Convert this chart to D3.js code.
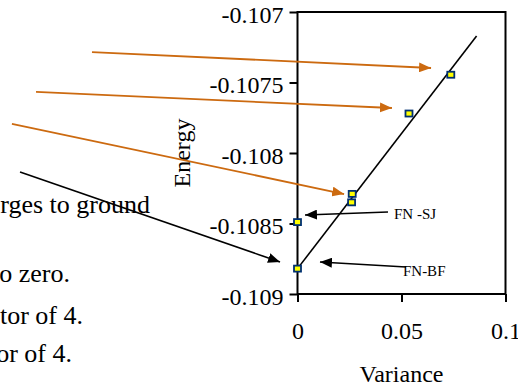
<!DOCTYPE html>
<html><head><meta charset="utf-8">
<script src="https://cdn.jsdelivr.net/npm/d3@7"></script>
<style>body{margin:0;background:#fff;overflow:hidden}svg{display:block}</style>
</head><body>
<svg id="c" width="518" height="388"></svg>
<script>
// ---- data ----
const variance = [0, 0, 0.026, 0.0263, 0.0536, 0.0737];
const energy   = [-0.10882, -0.10849, -0.10835, -0.10829, -0.10772, -0.107445];
const fitX = [0, 0.0861];
const fitY = [-0.10882, -0.10717];
const xTicks = [0, 0.05, 0.1];
const xTickLabels = ["0", "0.05", "0.1"];
const yTicks = [-0.107, -0.1075, -0.108, -0.1085, -0.109];
const yTickLabels = ["-0.107", "-0.1075", "-0.108", "-0.1085", "-0.109"];
// annotation arrows in data units: [x1, y1, x2, y2]
const orangeArrows = [
  [-0.0988, -0.107284, 0.0642, -0.107397],
  [-0.1257, -0.107567, 0.0454, -0.107681],
  [-0.1373, -0.107794, 0.0224, -0.108291]
];
const blackArrows = [
  [-0.1334, -0.108135, -0.0084, -0.108773],
  [0.0435, -0.108418, 0.0036, -0.10844],
  [0.0522, -0.108809, 0.0108, -0.108773]
];
const pointLabels = ["FN -SJ", "FN-BF"];
const pointLabelX = [0.0464, 0.0507];
const pointLabelY = [-0.108468, -0.108872];
const sideTexts = ["rges to ground", "o zero.", "tor of 4.", "or of 4."];
const sideTextY = [213, 282, 324, 362];
const sideTextEnd = [150, 70, 83, 72];

// ---- drawing ----
const svg = d3.select("#c");
const L = 297.5, R = 505.5, T = 12, B = 294;
const x = d3.scaleLinear().domain([0, 0.1]).range([L, R]);
const y = d3.scaleLinear().domain([-0.109, -0.107]).range([B, T]);
const serif = "'Liberation Serif','Times New Roman',serif";
const orange = "#cc6a10";

const defs = svg.append("defs");
function mk(id, col) {
  defs.append("marker").attr("id", id).attr("viewBox", "0 0 12 10")
    .attr("refX", 12).attr("refY", 5).attr("markerWidth", 12).attr("markerHeight", 10)
    .attr("markerUnits", "userSpaceOnUse").attr("orient", "auto")
    .append("path").attr("d", "M0,0 L12,5 L0,10 Z").attr("fill", col);
}
mk("ao", orange); mk("ab", "#000");

// side texts
svg.append("g").selectAll("text").data(sideTexts).join("text")
  .attr("x", (d, i) => sideTextEnd[i]).attr("y", (d, i) => sideTextY[i])
  .attr("text-anchor", "end").attr("font-family", serif).attr("font-size", 26)
  .attr("fill", "#000").text(d => d);

// frame
svg.append("rect").attr("x", L).attr("y", T).attr("width", R - L).attr("height", B - T)
  .attr("fill", "none").attr("stroke", "#000").attr("stroke-width", 2);

// axes
const yAxis = d3.axisLeft(y).tickValues(yTicks).tickSize(8).tickPadding(6)
  .tickFormat((d, i) => yTickLabels[i]);
const gy = svg.append("g").attr("transform", `translate(${L},0)`).call(yAxis)
  .attr("font-family", serif).attr("font-size", 24);
gy.select(".domain").remove();
gy.selectAll("line").attr("stroke", "#000").attr("stroke-width", 2);
gy.selectAll("text").attr("fill", "#000").attr("dy", "0.42em");

const xAxis = d3.axisBottom(x).tickValues(xTicks).tickSize(8).tickPadding(20)
  .tickFormat((d, i) => xTickLabels[i]);
const gx = svg.append("g").attr("transform", `translate(0,${B})`).call(xAxis)
  .attr("font-family", serif).attr("font-size", 24);
gx.select(".domain").remove();
gx.selectAll("line").attr("stroke", "#000").attr("stroke-width", 2);
gx.selectAll("text").attr("fill", "#000");

// axis titles
svg.append("text").attr("x", x(0.05)).attr("y", 382).attr("text-anchor", "middle")
  .attr("font-family", serif).attr("font-size", 24).text("Variance");
svg.append("text").attr("transform", `translate(190,${y(-0.108)}) rotate(-90)`)
  .attr("text-anchor", "middle").attr("font-family", serif).attr("font-size", 24).text("Energy");

// fit line
svg.append("line").attr("x1", x(fitX[0])).attr("y1", y(fitY[0]))
  .attr("x2", x(fitX[1])).attr("y2", y(fitY[1]))
  .attr("stroke", "#000").attr("stroke-width", 1.6);

// arrows
svg.append("g").selectAll("line").data(orangeArrows).join("line")
  .attr("x1", d => x(d[0])).attr("y1", d => y(d[1]))
  .attr("x2", d => x(d[2])).attr("y2", d => y(d[3]))
  .attr("stroke", orange).attr("stroke-width", 1.8).attr("marker-end", "url(#ao)");
svg.append("g").selectAll("line").data(blackArrows).join("line")
  .attr("x1", d => x(d[0])).attr("y1", d => y(d[1]))
  .attr("x2", d => x(d[2])).attr("y2", d => y(d[3]))
  .attr("stroke", "#000").attr("stroke-width", 1.6).attr("marker-end", "url(#ab)");

// points
svg.append("g").selectAll("rect").data(variance).join("rect")
  .attr("x", (d) => x(d) - 3.5).attr("y", (d, i) => y(energy[i]) - 3)
  .attr("width", 7).attr("height", 6)
  .attr("fill", "#ffff00").attr("stroke", "#003070").attr("stroke-width", 1.8);

// point labels
svg.append("g").selectAll("text").data(pointLabels).join("text")
  .attr("x", (d, i) => x(pointLabelX[i])).attr("y", (d, i) => y(pointLabelY[i]))
  .attr("font-family", serif).attr("font-size", 15).text(d => d);
</script>
</body></html>
